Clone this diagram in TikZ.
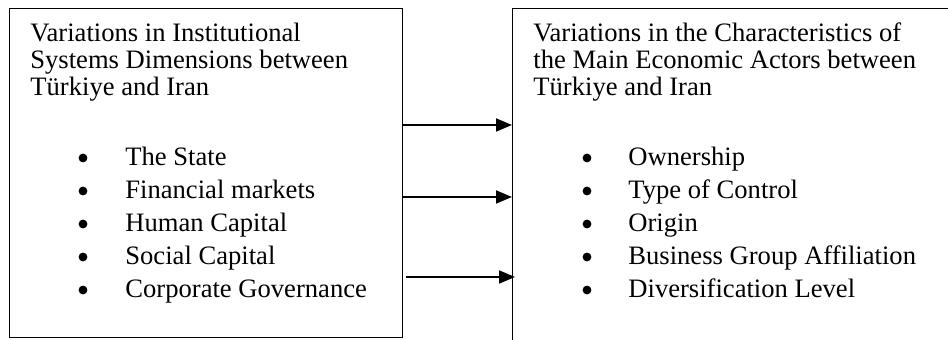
\documentclass[tikz,border=0pt]{standalone}
\usepackage{fontspec}
\setmainfont{Liberation Serif}
\usepackage{tikz}
\usetikzlibrary{positioning, arrows.meta, calc}

\begin{document}
\begin{tikzpicture}[
    x=0.5pt, y=-0.5pt,
    font=\fontsize{13.3}{13.5}\selectfont,
    box/.style={draw=black, line width=0.6pt, rectangle, inner sep=0pt, anchor=north west},
    txt/.style={inner sep=0pt, anchor=base west},
    dot/.style={circle, fill=black, inner sep=0pt, minimum size=4.4pt},
    arr/.style={line width=0.9pt, -{Triangle[length=8pt, width=6.5pt]}},
]
\useasboundingbox (0,0) rectangle (948,340);

% --- the two boxes ---
\node[box, minimum width=196.5pt, minimum height=164.5pt] (lbox) at (9,8) {};
\node[box, minimum width=250pt, minimum height=200pt] (rbox) at (512,8) {};

% --- left box: institutional systems ---
\foreach \t [count=\i from 0] in {Variations in Institutional, Systems Dimensions between, Türkiye and Iran} {
    \node[txt] (lt\i) at (30, {42+\i*27}) {\t};
}
\foreach \t [count=\i from 0] in {The State, Financial markets, Human Capital, Social Capital, Corporate Governance} {
    \node[dot] (lb\i) at (83, {158+\i*33}) {};
    \node[txt] (li\i) at (125, {166+\i*33}) {\t};
}

% --- right box: economic actors ---
\foreach \t [count=\i from 0] in {Variations in the Characteristics of, the Main Economic Actors between, Türkiye and Iran} {
    \node[txt] (rt\i) at (533, {42+\i*27}) {\t};
}
\foreach \t [count=\i from 0] in {Ownership, Type of Control, Origin, Business Group Affiliation, Diversification Level} {
    \node[dot] (rb\i) at (587, {158+\i*33}) {};
    \node[txt] (ri\i) at (628, {166+\i*33}) {\t};
}

% arrows between boxes
\coordinate (y1) at (0,125);
\coordinate (y2) at (0,197);
\coordinate (y3) at (0,277);
\draw[arr] (lbox.east |- y1) -- (rbox.west |- y1);
\draw[arr] (lbox.east |- y2) -- (rbox.west |- y2);
\draw[arr] ($(lbox.east |- y3)+(3,0)$) -- ($(rbox.west |- y3)+(3,0)$);

\end{tikzpicture}
\end{document}
